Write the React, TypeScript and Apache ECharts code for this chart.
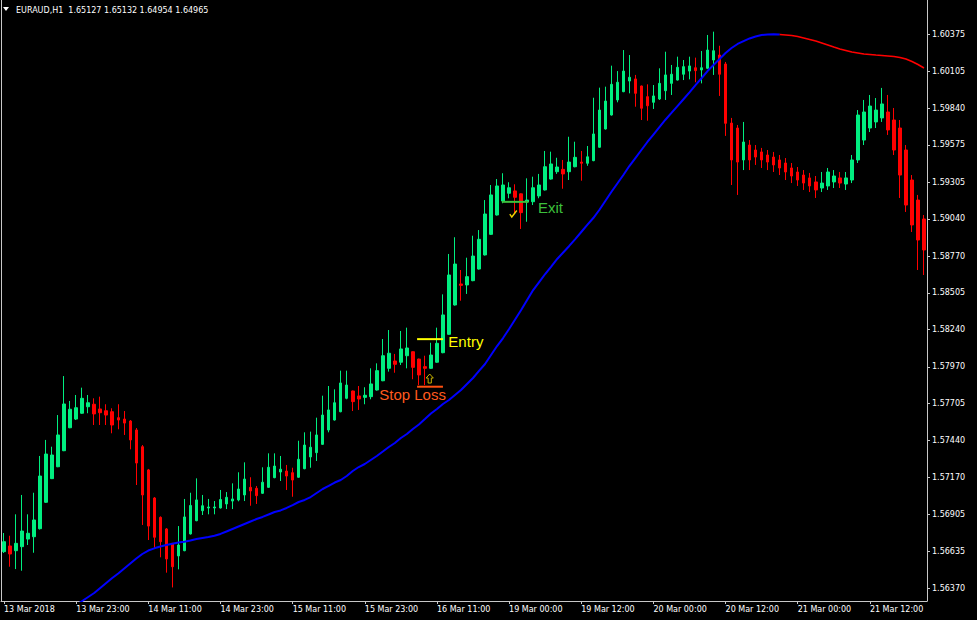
import React, { useEffect, useRef } from "react";
import * as echarts from "echarts";

const chartTitle = "EURAUD,H1  1.65127 1.65132 1.64954 1.64965";

// trading sessions (hourly bars)
const sessionDays = [
  { label: "13 Mar", from: 11, to: 23 },
  { label: "14 Mar", from: 0, to: 23 },
  { label: "15 Mar", from: 0, to: 23 },
  { label: "16 Mar", from: 0, to: 22 },
  { label: "19 Mar", from: 0, to: 23 },
  { label: "20 Mar", from: 0, to: 23 },
  { label: "21 Mar", from: 0, to: 21 },
];
const firstLabel = "13 Mar 2018";
const xLabelEvery = 12;

const yTicks = [
  1.60375, 1.60105, 1.5984, 1.59575, 1.59305, 1.5904, 1.5877, 1.58505,
  1.5824, 1.5797, 1.57705, 1.5744, 1.5717, 1.56905, 1.56635, 1.5637,
];
const yMin = 1.56276;
const yMax = 1.60623;

// [open, close, low, high]
const ohlc: number[][] = [
  [1.56633, 1.56705, 1.56623, 1.56768],
  [1.56674, 1.56616, 1.56524, 1.56748],
  [1.5664, 1.56693, 1.56507, 1.56903],
  [1.56669, 1.56782, 1.56495, 1.57043],
  [1.56724, 1.56766, 1.56681, 1.56903],
  [1.56741, 1.56862, 1.56625, 1.57059],
  [1.56799, 1.5718, 1.56793, 1.57325],
  [1.5699, 1.57339, 1.56985, 1.57441],
  [1.57161, 1.57332, 1.57158, 1.57392],
  [1.57247, 1.57477, 1.57244, 1.57621],
  [1.57363, 1.57701, 1.5736, 1.57903],
  [1.57529, 1.57663, 1.57526, 1.57723],
  [1.57592, 1.57674, 1.57585, 1.57766],
  [1.57634, 1.57742, 1.5763, 1.57819],
  [1.57681, 1.5771, 1.57634, 1.57766],
  [1.57699, 1.57629, 1.57549, 1.57742],
  [1.57665, 1.57638, 1.57549, 1.57754],
  [1.57652, 1.57621, 1.57549, 1.57699],
  [1.57645, 1.57549, 1.57489, 1.5767],
  [1.57602, 1.57585, 1.57518, 1.57699],
  [1.57592, 1.57563, 1.57477, 1.5765],
  [1.57578, 1.57441, 1.57373, 1.57585],
  [1.57513, 1.57274, 1.57115, 1.57527],
  [1.57392, 1.57043, 1.56826, 1.57404],
  [1.57224, 1.56818, 1.56717, 1.57231],
  [1.57021, 1.56737, 1.56657, 1.57028],
  [1.56881, 1.56705, 1.56592, 1.56888],
  [1.56797, 1.5658, 1.56481, 1.56804],
  [1.56693, 1.56524, 1.56374, 1.56695],
  [1.56602, 1.56681, 1.56505, 1.56818],
  [1.5664, 1.56884, 1.56636, 1.57014],
  [1.56761, 1.56967, 1.56757, 1.57059],
  [1.56857, 1.57007, 1.56853, 1.57163],
  [1.56929, 1.56965, 1.56898, 1.57043],
  [1.56949, 1.56956, 1.56903, 1.57014],
  [1.56949, 1.56956, 1.56903, 1.56999],
  [1.56949, 1.5701, 1.56945, 1.57079],
  [1.56978, 1.57026, 1.56941, 1.57064],
  [1.56999, 1.57014, 1.56941, 1.57127],
  [1.57007, 1.57086, 1.56997, 1.57207],
  [1.57043, 1.57158, 1.56999, 1.57279],
  [1.57098, 1.57072, 1.56965, 1.57171],
  [1.57091, 1.57038, 1.56978, 1.57108],
  [1.57055, 1.57135, 1.57051, 1.57243],
  [1.57098, 1.57243, 1.57094, 1.57344],
  [1.57168, 1.57252, 1.57164, 1.57344],
  [1.57209, 1.57229, 1.57144, 1.57325],
  [1.57216, 1.5718, 1.57079, 1.5726],
  [1.57204, 1.57151, 1.5703, 1.5724],
  [1.57171, 1.57301, 1.57167, 1.57435],
  [1.57233, 1.57404, 1.57229, 1.57496],
  [1.57318, 1.57388, 1.5724, 1.57501],
  [1.57349, 1.57477, 1.57289, 1.57602],
  [1.57409, 1.57621, 1.57405, 1.57761],
  [1.57513, 1.57658, 1.57496, 1.57831],
  [1.57585, 1.5771, 1.57581, 1.57807],
  [1.57645, 1.57853, 1.57641, 1.57942],
  [1.57742, 1.57838, 1.57735, 1.57942],
  [1.57795, 1.57718, 1.5765, 1.57798],
  [1.57759, 1.57737, 1.57658, 1.57831],
  [1.57749, 1.57764, 1.57699, 1.57822],
  [1.57754, 1.57846, 1.57735, 1.57959],
  [1.57802, 1.57942, 1.57798, 1.57995],
  [1.57869, 1.5805, 1.57866, 1.58171],
  [1.57959, 1.58068, 1.57935, 1.58236],
  [1.58012, 1.57988, 1.57927, 1.58063],
  [1.58003, 1.58099, 1.57983, 1.58229],
  [1.5805, 1.58106, 1.57959, 1.58253],
  [1.58079, 1.57966, 1.5788, 1.58082],
  [1.58026, 1.57911, 1.57838, 1.58029],
  [1.57971, 1.57959, 1.57838, 1.5805],
  [1.57959, 1.58055, 1.57955, 1.58144],
  [1.58003, 1.5814, 1.57999, 1.58253],
  [1.58072, 1.58345, 1.58068, 1.58494],
  [1.58205, 1.58634, 1.58201, 1.58786],
  [1.58417, 1.58713, 1.58413, 1.58907],
  [1.58569, 1.58559, 1.58448, 1.5867],
  [1.58562, 1.58622, 1.58497, 1.58759],
  [1.58593, 1.58771, 1.58589, 1.58918],
  [1.58677, 1.58892, 1.58673, 1.58959],
  [1.58779, 1.59075, 1.58775, 1.59176],
  [1.58928, 1.59213, 1.58924, 1.59285],
  [1.59068, 1.59278, 1.59064, 1.59328],
  [1.59169, 1.59285, 1.59153, 1.5937],
  [1.59225, 1.59265, 1.59189, 1.59305],
  [1.59242, 1.59196, 1.5908, 1.5929],
  [1.59221, 1.59085, 1.58967, 1.59224],
  [1.59162, 1.59176, 1.59019, 1.59333],
  [1.59164, 1.59265, 1.5914, 1.59345],
  [1.59206, 1.59285, 1.59189, 1.59365],
  [1.59249, 1.59417, 1.59245, 1.59531],
  [1.59328, 1.59437, 1.59324, 1.59526],
  [1.59381, 1.59415, 1.59365, 1.59482],
  [1.59398, 1.59365, 1.59258, 1.59466],
  [1.59381, 1.59451, 1.59321, 1.59634],
  [1.59417, 1.59485, 1.59413, 1.59598],
  [1.59451, 1.59442, 1.59316, 1.59531],
  [1.59442, 1.59489, 1.59424, 1.59567],
  [1.59461, 1.59654, 1.59457, 1.59916],
  [1.59558, 1.59827, 1.59554, 1.59989],
  [1.5969, 1.59892, 1.59686, 1.59996],
  [1.59791, 1.60013, 1.59787, 1.60148],
  [1.599, 1.60028, 1.59883, 1.60109],
  [1.5996, 1.60109, 1.59956, 1.60261],
  [1.60037, 1.60064, 1.59948, 1.60225],
  [1.60052, 1.59948, 1.59851, 1.60081],
  [1.60001, 1.5984, 1.59755, 1.60004],
  [1.59924, 1.59858, 1.5975, 1.60013],
  [1.59883, 1.59929, 1.59835, 1.60008],
  [1.59907, 1.6002, 1.599, 1.60129],
  [1.59967, 1.60081, 1.599, 1.60249],
  [1.6002, 1.60086, 1.59936, 1.60153],
  [1.60044, 1.60136, 1.6004, 1.60213],
  [1.60086, 1.60141, 1.60044, 1.60189],
  [1.60109, 1.60146, 1.60049, 1.60213],
  [1.60133, 1.60112, 1.60028, 1.60206],
  [1.60117, 1.60133, 1.6002, 1.60254],
  [1.60129, 1.60261, 1.60125, 1.6037],
  [1.60189, 1.60256, 1.60081, 1.60394],
  [1.60225, 1.60086, 1.59929, 1.60292],
  [1.6016, 1.59731, 1.5964, 1.60175],
  [1.59733, 1.59466, 1.59285, 1.5977],
  [1.59697, 1.59451, 1.59213, 1.59719],
  [1.59466, 1.59596, 1.59393, 1.59741],
  [1.59574, 1.59466, 1.59393, 1.5961],
  [1.59538, 1.59487, 1.5943, 1.59574],
  [1.59524, 1.59466, 1.59408, 1.59553],
  [1.59502, 1.59451, 1.59393, 1.59538],
  [1.59487, 1.5943, 1.59379, 1.59524],
  [1.59466, 1.59408, 1.59357, 1.59502],
  [1.59444, 1.59379, 1.59321, 1.5948],
  [1.59408, 1.5935, 1.59299, 1.59444],
  [1.59379, 1.59321, 1.59278, 1.59415],
  [1.59357, 1.59299, 1.59249, 1.59393],
  [1.59336, 1.59278, 1.59234, 1.59372],
  [1.59307, 1.59249, 1.59191, 1.5935],
  [1.59263, 1.59299, 1.59234, 1.59379],
  [1.59278, 1.59379, 1.59249, 1.59408],
  [1.59307, 1.5935, 1.59263, 1.59393],
  [1.59336, 1.59299, 1.59263, 1.59379],
  [1.59292, 1.59336, 1.59249, 1.59379],
  [1.59321, 1.59466, 1.59299, 1.59502],
  [1.59466, 1.59791, 1.59444, 1.59827],
  [1.5961, 1.59813, 1.59574, 1.599],
  [1.59697, 1.59856, 1.59668, 1.59936],
  [1.59741, 1.59827, 1.59697, 1.59914],
  [1.5977, 1.59871, 1.59741, 1.59987],
  [1.59813, 1.59683, 1.59647, 1.59936],
  [1.59755, 1.59538, 1.59502, 1.59842],
  [1.59697, 1.59357, 1.59191, 1.59755],
  [1.59538, 1.5914, 1.5909, 1.59574],
  [1.59321, 1.58996, 1.58945, 1.59357],
  [1.59176, 1.58887, 1.5867, 1.59213],
  [1.59039, 1.58815, 1.58634, 1.59068],
];

// moving average, starting at bar maStart; colour turns at bar maTurn
const maStart = 12;
const maTurn = 129;
const maValues = [
  1.56247, 1.56276, 1.56305, 1.56334, 1.5637, 1.56406, 1.56442, 1.56475, 1.56511, 1.56547,
  1.56583, 1.56616, 1.56641, 1.56657, 1.5667, 1.56681, 1.5669, 1.56699, 1.56705, 1.56714,
  1.56724, 1.56732, 1.56739, 1.56748, 1.56761, 1.56779, 1.56797, 1.56815, 1.56833, 1.56851,
  1.56869, 1.56884, 1.56902, 1.5692, 1.56931, 1.56949, 1.5697, 1.56992, 1.57007, 1.57028,
  1.57057, 1.57086, 1.57108, 1.57133, 1.57151, 1.5718, 1.57216, 1.57245, 1.57267, 1.57296,
  1.57325, 1.57357, 1.5739, 1.57419, 1.57455, 1.57484, 1.5752, 1.57553, 1.57592, 1.57632,
  1.57665, 1.57701, 1.5773, 1.57766, 1.57802, 1.57846, 1.57889, 1.5794, 1.5799, 1.58055,
  1.5812, 1.58178, 1.58243, 1.58312, 1.58381, 1.58453, 1.58525, 1.58583, 1.58641, 1.58695,
  1.5875, 1.58797, 1.58844, 1.58894, 1.58945, 1.58996, 1.59046, 1.59104, 1.59169, 1.59234,
  1.59296, 1.59357, 1.59422, 1.5948, 1.59538, 1.59596, 1.5965, 1.59704, 1.59757, 1.59806,
  1.59856, 1.59905, 1.59955, 1.60007, 1.60057, 1.60109, 1.60153, 1.60196, 1.6024, 1.60276,
  1.60305, 1.60326, 1.60345, 1.60359, 1.6037, 1.60373, 1.60376, 1.60373, 1.6037, 1.60366,
  1.60359, 1.60348, 1.60337, 1.60326, 1.60312, 1.60298, 1.60283, 1.60269, 1.60258, 1.60247,
  1.6024, 1.60232, 1.60229, 1.60225, 1.60222, 1.60218, 1.60214, 1.60207, 1.60196, 1.60178,
  1.60156, 1.60131,
];

// trade annotations (bar index, price)
const tradeLines = [
  { from: 68.7, to: 73.0, price: 1.5817, color: "#ffff00" },
  { from: 68.7, to: 73.0, price: 1.57826, color: "#ff5010" },
  { from: 82.8, to: 87.2, price: 1.59163, color: "#3cc03c" },
];
const tradeTexts = [
  { text: "Entry", at: 73.9, price: 1.58153, color: "#ffff00" },
  { text: "Stop Loss", at: 62.4, price: 1.5777, color: "#ff5a1e" },
  { text: "Exit", at: 88.8, price: 1.59119, color: "#3cc03c" },
];
const stopArrow = { at: 70.8, price: 1.57885, color: "#c8b400" };
const exitCheck = { at: 84.7, price: 1.59075, color: "#f0d000" };

const GREEN = "#00ee80";
const RED = "#ff0000";

export default function App() {
  const ref = useRef<HTMLDivElement>(null);

  useEffect(() => {
    if (!ref.current) return;
    const chart = echarts.init(ref.current, null, { renderer: "svg" });

    const categories: string[] = [];
    sessionDays.forEach((d) => {
      for (let h = d.from; h <= d.to; h++) {
        categories.push(`${d.label} ${String(h).padStart(2, "0")}:00`);
      }
    });
    const labelOf = (i: number) => (i === 0 ? firstLabel : categories[i]);

    const maBlue = categories.map((_, i) =>
      i >= maStart && i <= maTurn ? maValues[i - maStart] : null
    );
    const maRed = categories.map((_, i) =>
      i >= maTurn && i - maStart < maValues.length ? maValues[i - maStart] : null
    );

    const axisColor = "#c8c8c8";
    const labelFont = { color: "#ffffff", fontSize: 8, fontFamily: "DejaVu Sans" };

    const titleGraphics = [
      {
        type: "polygon",
        shape: { points: [[3, 7], [9, 7], [6, 11]] },
        style: { fill: "#ffffff" },
      },
      {
        type: "text",
        x: 16,
        y: 10,
        style: {
          text: chartTitle,
          fill: "#ffffff",
          fontSize: 8,
          fontFamily: "DejaVu Sans",
          verticalAlign: "middle",
        },
      },
    ];

    chart.setOption({
      animation: false,
      backgroundColor: "#000000",
      grid: { left: 1, right: 50, top: 0, bottom: 19 },
      xAxis: {
        type: "category",
        data: categories,
        boundaryGap: true,
        axisLine: { show: true, onZero: false, lineStyle: { color: axisColor, width: 1 } },
        axisTick: {
          show: true,
          alignWithLabel: true,
          length: 3,
          interval: (i: number) => i % xLabelEvery === 0,
          lineStyle: { color: axisColor },
        },
        axisLabel: {
          ...labelFont,
          interval: (i: number) => i % xLabelEvery === 0,
          formatter: (_v: string, i: number) => labelOf(i),
          align: "left",
          margin: 4,
        },
        splitLine: { show: false },
      },
      yAxis: [
        {
          type: "value",
          position: "right",
          min: yMin,
          max: yMax,
          splitLine: { show: false },
          axisLine: { show: true, onZero: false, lineStyle: { color: axisColor, width: 1 } },
          axisTick: {
            show: true,
            length: 3,
            customValues: yTicks,
            lineStyle: { color: axisColor },
          },
          axisLabel: {
            ...labelFont,
            customValues: yTicks,
            formatter: (v: number) => v.toFixed(5),
            margin: 5,
          },
        },
        {
          type: "value",
          position: "left",
          min: yMin,
          max: yMax,
          splitLine: { show: false },
          axisLine: { show: true, onZero: false, lineStyle: { color: axisColor, width: 1 } },
          axisTick: { show: false },
          axisLabel: { show: false },
        },
      ],
      series: [
        {
          type: "candlestick",
          data: ohlc,
          barWidth: 3,
          itemStyle: {
            color: GREEN,
            color0: RED,
            borderColor: GREEN,
            borderColor0: RED,
            borderWidth: 1,
          },
          z: 2,
        },
        {
          type: "line",
          data: maBlue,
          showSymbol: false,
          symbol: "none",
          connectNulls: false,
          lineStyle: { color: "#0000ff", width: 2 },
          z: 3,
        },
        {
          type: "line",
          data: maRed,
          showSymbol: false,
          symbol: "none",
          connectNulls: false,
          lineStyle: { color: "#ff0000", width: 1.6 },
          z: 3,
        },
      ],
      graphic: titleGraphics,
    });

    const toPx = (idx: number, price: number) => {
      const i0 = Math.floor(idx);
      const f = idx - i0;
      const a = chart.convertToPixel({ xAxisIndex: 0, yAxisIndex: 0 }, [i0, price]) as number[];
      const b = chart.convertToPixel({ xAxisIndex: 0, yAxisIndex: 0 }, [i0 + 1, price]) as number[];
      return [a[0] + (b[0] - a[0]) * f, a[1]];
    };

    const extra: any[] = [];
    tradeLines.forEach((l) => {
      const p1 = toPx(l.from, l.price);
      const p2 = toPx(l.to, l.price);
      extra.push({
        type: "line",
        z: 10,
        shape: { x1: p1[0], y1: p1[1], x2: p2[0], y2: p2[1] },
        style: { stroke: l.color, lineWidth: 2 },
      });
    });
    tradeTexts.forEach((t) => {
      const p = toPx(t.at, t.price);
      extra.push({
        type: "text",
        z: 10,
        x: p[0],
        y: p[1],
        style: {
          text: t.text,
          fill: t.color,
          fontSize: 15,
          fontFamily: "Liberation Sans",
          verticalAlign: "middle",
          align: "left",
        },
      });
    });
    // hollow up-arrow above the stop level
    const ap = toPx(stopArrow.at, stopArrow.price);
    extra.push({
      type: "polygon",
      z: 10,
      x: ap[0],
      y: ap[1],
      shape: {
        points: [[0, -4.5], [3.6, -0.5], [1.6, -0.5], [1.6, 4.5], [-1.6, 4.5], [-1.6, -0.5], [-3.6, -0.5]],
      },
      style: { fill: "none", stroke: stopArrow.color, lineWidth: 1 },
    });
    // small check mark at the exit
    const cp = toPx(exitCheck.at, exitCheck.price);
    extra.push({
      type: "polyline",
      z: 10,
      x: cp[0],
      y: cp[1],
      shape: { points: [[-3.5, 0], [-1.5, 3], [3.5, -3.5]] },
      style: { fill: "none", stroke: exitCheck.color, lineWidth: 1.4 },
    });

    chart.setOption({ graphic: [...titleGraphics, ...extra] });

    return () => chart.dispose();
  }, []);

  return (
    <div
      ref={ref}
      style={{ position: "fixed", left: 0, top: 0, width: 977, height: 620, background: "#000" }}
    />
  );
}
